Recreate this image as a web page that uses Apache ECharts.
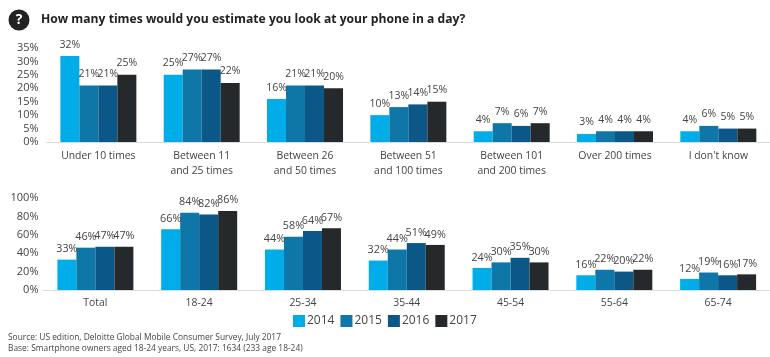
<!DOCTYPE html>
<html><head><meta charset="utf-8">
<style>html,body{margin:0;padding:0;background:#fff;overflow:hidden}#c{width:770px;height:357px}</style>
<script src="https://cdn.jsdelivr.net/npm/echarts@6/dist/echarts.min.js"></script>
</head><body><div id="c"></div>
<script>
const titleText = "How many times would you estimate you look at your phone in a day?";
const years = ["2014","2015","2016","2017"];
const topCategories = ["Under 10 times","Between 11\nand 25 times","Between 26\nand 50 times","Between 51\nand 100 times","Between 101\nand 200 times","Over 200 times","I don't know"];
const top2014 = [32,25,16,10,4,3,4];
const top2015 = [21,27,21,13,7,4,6];
const top2016 = [21,27,21,14,6,4,5];
const top2017 = [25,22,20,15,7,4,5];
const ageCategories = ["Total","18-24","25-34","35-44","45-54","55-64","65-74"];
const age2014 = [33,66,44,32,24,16,12];
const age2015 = [46,84,58,44,30,22,19];
const age2016 = [47,82,64,51,35,20,16];
const age2017 = [47,86,67,49,30,22,17];
const colors = ["#00ade9","#0f76a8","#0b5788","#26292c"];
const sourceLines = ["Source: US edition, Deloitte Global Mobile Consumer Survey, July 2017","Base: Smartphone owners aged 18-24 years, US, 2017: 1634 (233 age 18-24)"];
const font = "'Open Sans'";
const txt = "#444";
function bars(arrs, ax, fs, dist){
  return arrs.map((d,i)=>({name:years[i],type:"bar",xAxisIndex:ax,yAxisIndex:ax,data:d,barWidth:19,barGap:0,
    itemStyle:{color:colors[i]},
    label:{show:true,position:"top",distance:dist,formatter:"{c}%",fontFamily:font,fontSize:fs,color:txt}}));
}
function xa(g,cats,m){return {type:"category",gridIndex:g,data:cats,axisTick:{show:false},
  axisLine:{lineStyle:{color:"#dcdcdc",width:1}},
  axisLabel:{fontFamily:font,fontSize:10.4,color:txt,margin:m,lineHeight:15,interval:0}};}
function ya(g,max,iv,m){return {type:"value",gridIndex:g,min:0,max:max,interval:iv,splitLine:{show:false},axisLine:{show:false},axisTick:{show:false},
  axisLabel:{formatter:"{value}%",fontFamily:font,fontSize:11,color:txt,margin:m}};}
const chart = echarts.init(document.getElementById("c"),null,{renderer:"canvas"});
chart.setOption({
  animation:false,
  backgroundColor:"#fff",
  color:colors,
  title:{text:titleText,left:41,top:14,padding:0,textStyle:{fontFamily:font,fontSize:12.15,fontWeight:"bold",color:"#222"}},
  legend:{data:years,left:293,top:315,padding:0,itemWidth:12,itemHeight:12,itemGap:6,icon:"rect",textStyle:{fontFamily:font,fontSize:12,color:txt,padding:[0,0,0,-3]}},
  grid:[{left:46.7,top:48,width:732,height:94},{left:43.5,top:198,width:735,height:92}],
  xAxis:[xa(0,topCategories,7),xa(1,ageCategories,6)],
  yAxis:[ya(0,35,5,8),ya(1,100,20,5)],
  series:[...bars([top2014,top2015,top2016,top2017],0,10.5,6),...bars([age2014,age2015,age2016,age2017],1,10.8,5)],
  graphic:[
    {type:"circle",shape:{cx:19,cy:20,r:10.5},style:{fill:"#222"}},
    {type:"text",x:19,y:20,style:{text:"?",fill:"#fff",font:"bold 14px 'Open Sans'",textAlign:"center",textVerticalAlign:"middle"}},
    {type:"text",x:8,y:338,style:{text:sourceLines[0],fill:"#444",font:"8.4px 'Open Sans'",textVerticalAlign:"middle"}},
    {type:"text",x:8,y:349,style:{text:sourceLines[1],fill:"#444",font:"8.4px 'Open Sans'",textVerticalAlign:"middle"}}
  ]
});
</script></body></html>
